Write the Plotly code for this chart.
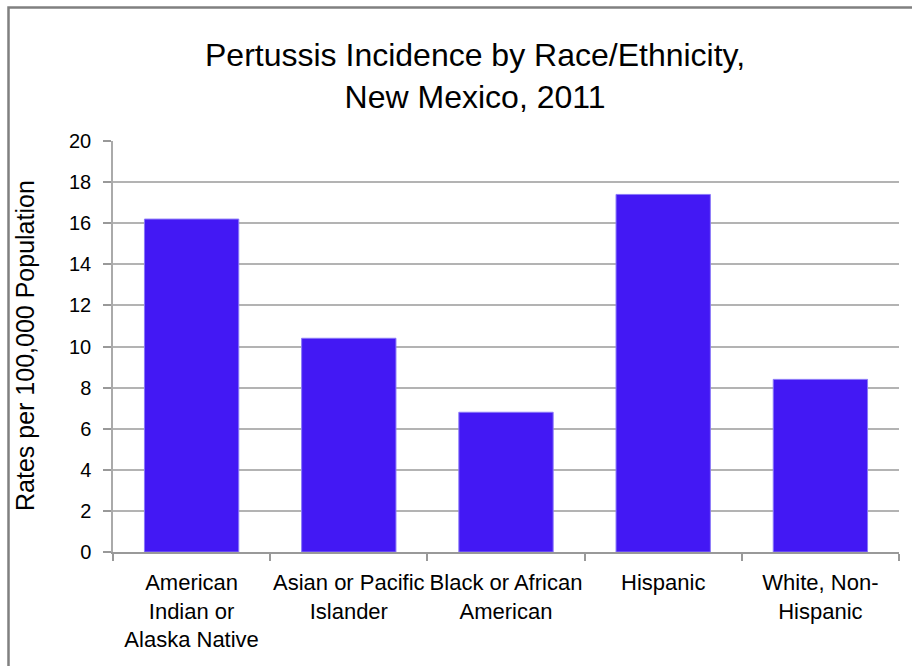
import plotly.graph_objects as go

categories = [
    "American<br>Indian or<br>Alaska Native",
    "Asian or Pacific<br>Islander",
    "Black or African<br>American",
    "Hispanic",
    "White, Non-<br>Hispanic",
]
rates = [16.2, 10.4, 6.8, 17.4, 8.4]
y_ticks = [0, 2, 4, 6, 8, 10, 12, 14, 16, 18, 20]
title_text = "Pertussis Incidence by Race/Ethnicity,<br>New Mexico, 2011"
y_title = "Rates per 100,000 Population"

FONT = "Liberation Sans, Arial, sans-serif"
L, R, T, B = 113, 13, 141, 114
W, H = 912, 666
pw, ph = W - L - R, H - T - B

def px_x(p):
    return (p - L) / pw

def px_y(p):
    return (H - B - p) / ph

fig = go.Figure(
    go.Bar(
        x=categories,
        y=rates,
        width=0.6,
        marker=dict(color="#4318F4", line=dict(color="#8A78F8", width=1)),
    )
)

fig.update_layout(
    width=W,
    height=H,
    margin=dict(l=L, r=R, t=T, b=B),
    paper_bgcolor="white",
    plot_bgcolor="white",
    showlegend=False,
    font=dict(family=FONT, color="black"),
    bargap=0.4,
)

fig.update_xaxes(
    type="category",
    tickson="boundaries",
    ticks="outside",
    ticklen=7,
    tickcolor="#999999",
    tickwidth=1.5,
    showline=True,
    linecolor="#999999",
    linewidth=1.5,
    showgrid=False,
    tickangle=0,
    automargin=False,
    tickfont=dict(size=22, family=FONT, color="black"),
    ticklabelstandoff=10,
)

fig.update_yaxes(
    range=[0, 20],
    tickvals=y_ticks,
    ticks="outside",
    ticklen=8,
    tickcolor="#999999",
    tickwidth=1.5,
    showline=True,
    linecolor="#AAAAAA",
    linewidth=1.5,
    showgrid=True,
    gridcolor="#B3B3B3",
    gridwidth=1.5,
    zeroline=False,
    automargin=False,
    tickfont=dict(size=20, family=FONT, color="black"),
    ticklabelstandoff=8,
)

fig.add_annotation(
    text=title_text,
    xref="paper", yref="paper",
    x=px_x(475), y=px_y(76),
    xanchor="center", yanchor="middle",
    showarrow=False,
    font=dict(size=32, family=FONT, color="black"),
)

fig.add_annotation(
    text=y_title,
    xref="paper", yref="paper",
    x=px_x(25), y=px_y(346),
    xanchor="center", yanchor="middle",
    textangle=-90,
    showarrow=False,
    font=dict(size=25, family=FONT, color="black"),
)

fig.add_shape(
    type="rect",
    xref="paper", yref="paper",
    x0=px_x(8.5), x1=px_x(930),
    y0=px_y(700), y1=px_y(7.5),
    line=dict(color="#808080", width=2.5),
    fillcolor="rgba(0,0,0,0)",
    layer="above",
)

fig.write_html("out.html")
